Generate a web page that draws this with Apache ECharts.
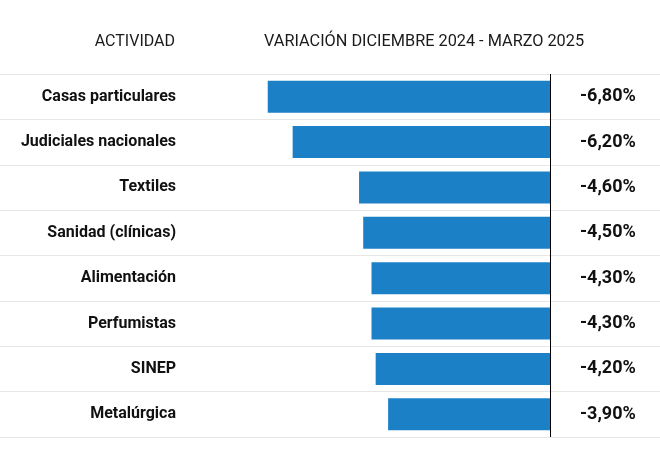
<!DOCTYPE html>
<html>
<head>
<meta charset="utf-8">
<script src="https://cdn.jsdelivr.net/npm/echarts@6/dist/echarts.min.js"></script>
<style>
  html, body { margin: 0; padding: 0; background: #fff; }
  #chart { width: 660px; height: 456px; }
</style>
</head>
<body>
<div id="chart"></div>
<script>
// variación salarial por actividad
var actividades = ["Casas particulares", "Judiciales nacionales", "Textiles", "Sanidad (clínicas)", "Alimentación", "Perfumistas", "SINEP", "Metalúrgica"];
var variacion = [-6.8, -6.2, -4.6, -4.5, -4.3, -4.3, -4.2, -3.9];
var colTitulos = ["ACTIVIDAD", "VARIACIÓN DICIEMBRE 2024 - MARZO 2025"];

(function () {
    var myChart = echarts.init(document.getElementById("chart"));
    var fuente = "Roboto";

    option = {
        backgroundColor: "#fff",
        animation: false,
        title: [{
            text: colTitulos[0],
            right: 485,
            top: 34,
            padding: 0,
            textStyle: { fontFamily: fuente, fontSize: 16, fontWeight: "normal", color: "#1a1a1a" }
        }, {
            text: colTitulos[1],
            left: 264,
            top: 34,
            padding: 0,
            textStyle: { fontFamily: fuente, fontSize: 16.3, fontWeight: "normal", color: "#1a1a1a" }
        }],
        grid: {
            left: 0,
            right: 0,
            top: 74,
            bottom: 19
        },
        xAxis: {
            type: "value",
            min: -13.25,
            max: 2.65,
            axisLine: { show: false },
            axisTick: { show: false },
            axisLabel: { show: false },
            splitLine: { show: false }
        },
        yAxis: {
            type: "category",
            inverse: true,
            data: actividades,
            axisLine: { show: false, onZero: false },
            axisTick: { show: false },
            axisLabel: {
                margin: -176,
                fontFamily: fuente,
                fontSize: 16,
                fontWeight: "bold",
                color: "#111"
            },
            splitLine: {
                show: true,
                lineStyle: { color: "#e6e6e6", width: 1 }
            }
        },
        series: [{
            type: "bar",
            data: variacion,
            barWidth: 32,
            itemStyle: { color: "#1c80c6" },
            label: {
                show: true,
                position: "right",
                distance: 30,
                fontFamily: fuente,
                fontSize: 18,
                fontWeight: "bold",
                color: "#111",
                formatter: function (p) {
                    return p.value.toFixed(2).replace(".", ",") + "%";
                }
            },
            markLine: {
                silent: true,
                symbol: "none",
                label: { show: false },
                lineStyle: { color: "#000", width: 1, type: "solid" },
                data: [{ xAxis: 0 }]
            }
        }]
    };
    myChart.setOption(option);
    window.addEventListener("resize", function () {
        myChart.resize();
    });
})();
</script>
</body>
</html>
